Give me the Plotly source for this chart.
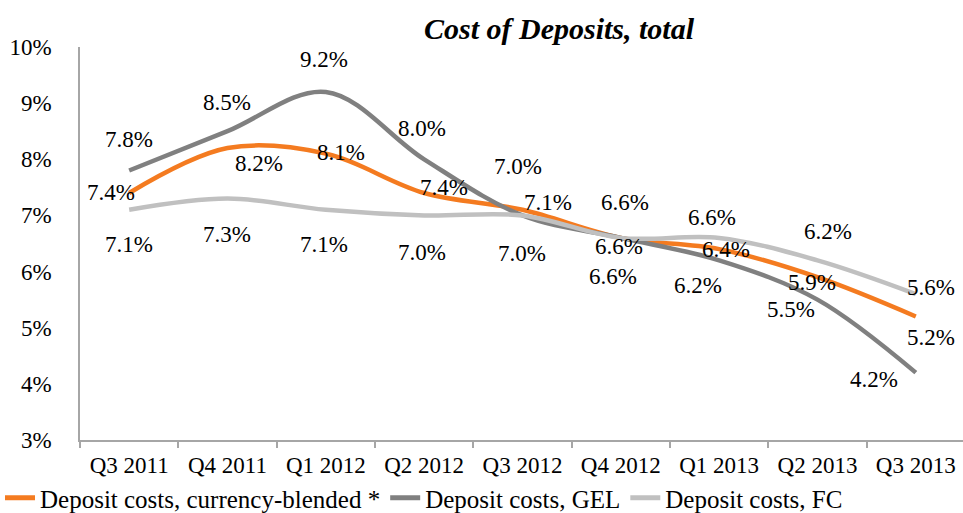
import plotly.graph_objects as go

categories = ["Q3 2011", "Q4 2011", "Q1 2012", "Q2 2012", "Q3 2012",
              "Q4 2012", "Q1 2013", "Q2 2013", "Q3 2013"]
blended = [7.4, 8.2, 8.1, 7.4, 7.1, 6.6, 6.4, 5.9, 5.2]
gel = [7.8, 8.5, 9.2, 8.0, 7.0, 6.6, 6.2, 5.5, 4.2]
fc = [7.1, 7.3, 7.1, 7.0, 7.0, 6.6, 6.6, 6.2, 5.6]
y_ticks = [3, 4, 5, 6, 7, 8, 9, 10]

series_names = ["Deposit costs, currency-blended *", "Deposit costs, GEL", "Deposit costs, FC"]
colors = ["#F47B20", "#808080", "#C0C0C0"]

# label pixel offsets (dx, dy downwards) per point, styling only
offsets = [
    [(-18, 0), (32, 15), (15, -1), (20, -5), (26, -7), (-2, 9), (7, 0), (-5, 5), (15, 21)],
    [(0, -31), (0, -29), (-2, -32), (-2, -31), (-4, -49), (-8, 39), (-21, 25), (-26, 10), (-42, 7)],
    [(0, 35), (0, 36), (-2, 35), (-2, 37), (0, 38), (4, -35), (-7, -20), (11, -29), (15, -7)],
]

FONT = "Liberation Serif"

fig = go.Figure()
all_series = [blended, gel, fc]
for name, vals, col in zip(series_names, all_series, colors):
    fig.add_trace(go.Scatter(
        x=categories, y=vals, name=name, mode="lines",
        line=dict(color=col, width=4.5, shape="spline", smoothing=1.0),
    ))

annotations = []
for vals, offs in zip(all_series, offsets):
    for c, v, (dx, dy) in zip(categories, vals, offs):
        annotations.append(dict(
            x=c, y=v, xref="x", yref="y", text=f"{v:.1f}%", showarrow=False,
            xshift=dx, yshift=-dy, font=dict(family=FONT, size=23, color="#000000"),
        ))

fig.update_layout(
    width=963, height=513,
    margin=dict(l=80, r=0, t=47, b=73, autoexpand=False),
    paper_bgcolor="white", plot_bgcolor="white",
    font=dict(family=FONT, size=23, color="#000000"),
    title=dict(text="<b><i>Cost of Deposits, total</i></b>", xref="container", yref="container",
               x=559 / 963, xanchor="center", y=1 - 28 / 513, yanchor="middle",
               font=dict(family=FONT, size=30, color="#000000")),
    xaxis=dict(type="category", range=[-0.5, 8.48], showgrid=False, showline=True,
               linecolor="#A6A6A6", linewidth=1.5, ticks="outside", tickson="boundaries",
               ticklen=6, tickcolor="#A6A6A6", tickwidth=1.5, automargin=False,
               ticklabelstandoff=4, tickfont=dict(family=FONT, size=23)),
    yaxis=dict(range=[3, 10], tickvals=y_ticks, ticktext=[f"{t}%" for t in y_ticks],
               showgrid=False, showline=True, linecolor="#A6A6A6", linewidth=1.5,
               ticks="", ticklabelstandoff=22, zeroline=False, automargin=False,
               tickfont=dict(family=FONT, size=23)),
    showlegend=True,
    legend=dict(orientation="h", xref="container", yref="container",
                x=-0.008, xanchor="left", y=15 / 513, yanchor="middle",
                font=dict(family=FONT, size=25), bgcolor="rgba(0,0,0,0)",
                itemsizing="constant", tracegroupgap=0),
    annotations=annotations,
)

fig.write_html("out.html", config={"displayModeBar": False},
               post_script="document.body.style.margin='0';document.body.style.overflow='hidden';")
